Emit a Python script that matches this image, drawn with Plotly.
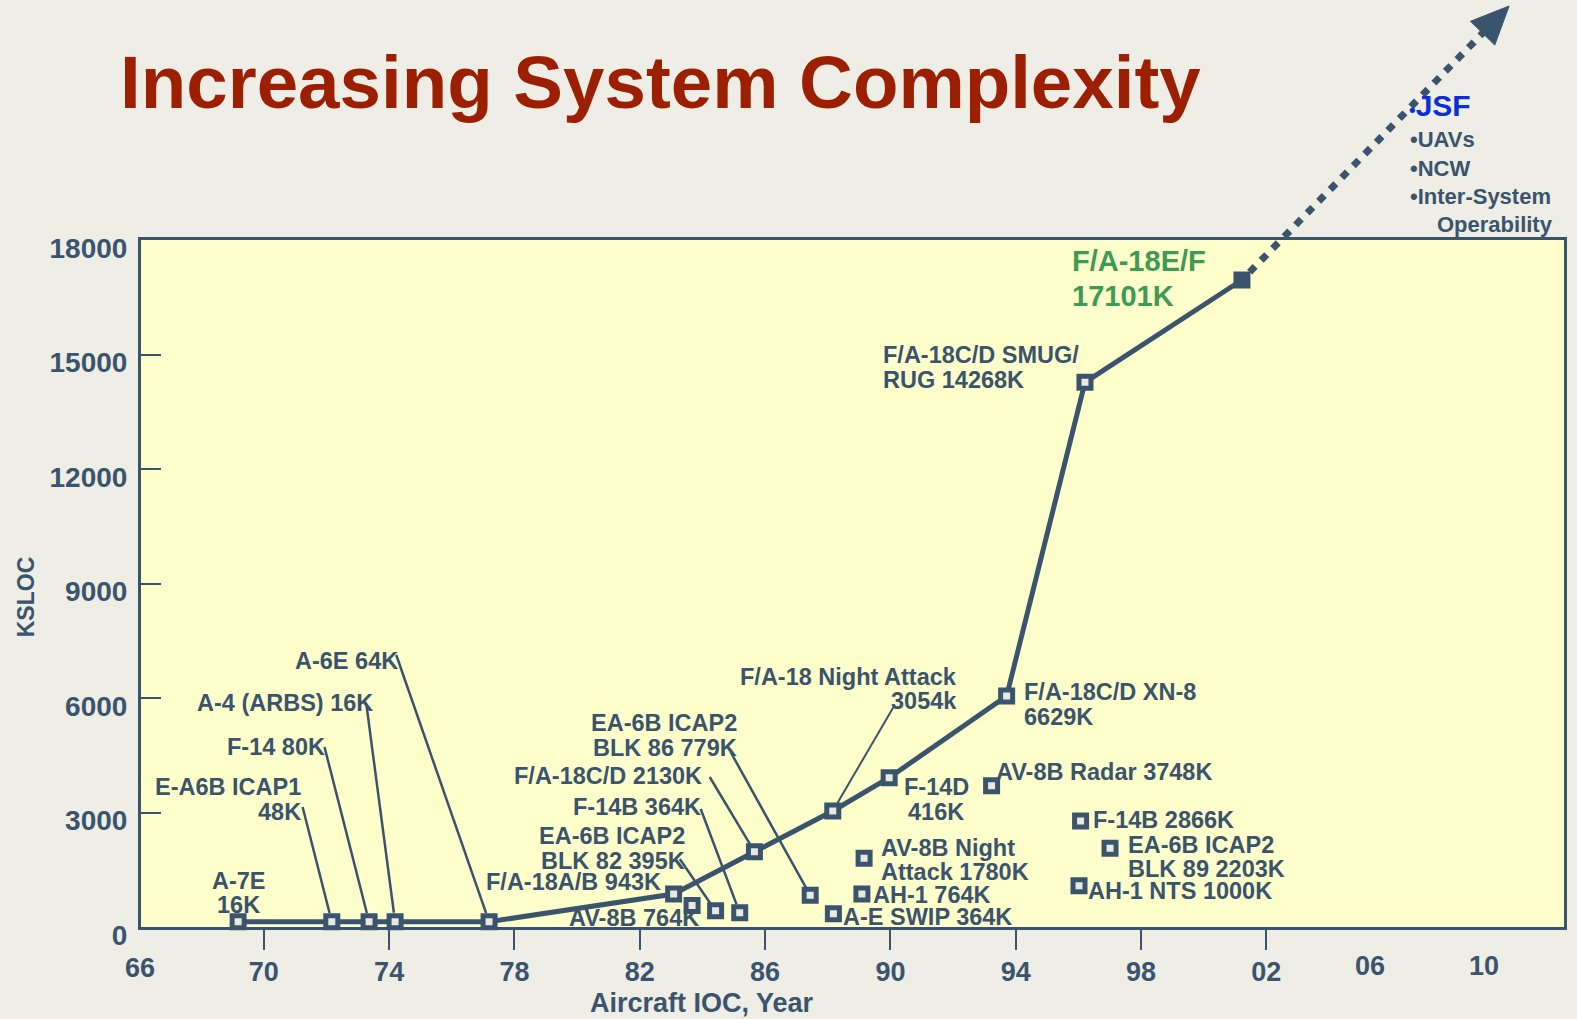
import math
import plotly.graph_objects as go

# ---------------- data ----------------
line_names = ["A-7E", "E-A6B ICAP1", "F-14", "A-4 (ARBS)", "A-6E", "F/A-18A/B",
              "F/A-18C/D", "F/A-18 Night Attack", "F-14D", "F/A-18C/D XN-8",
              "F/A-18C/D SMUG/RUG", "F/A-18E/F"]
line_years = [1969.18, 1972.17, 1973.36, 1974.19, 1977.19, 1983.08,
              1985.66, 1988.16, 1989.96, 1993.71, 1996.21, 2001.22]
line_ksloc = [139, 139, 139, 139, 139, 865, 1973, 3039, 3912, 6052, 14272, 16952]

other_names = ["AV-8B", "EA-6B BLK 82", "F-14B", "EA-6B BLK 86", "A-E SWIP",
               "AH-1", "AV-8B Night Attack", "AV-8B Radar", "AH-1 NTS",
               "F-14B 2866K", "EA-6B BLK 89"]
other_years = [1983.67, 1984.42, 1985.19, 1987.44, 1988.18, 1989.09, 1989.16,
               1993.23, 1996.02, 1996.07, 1997.01]
other_ksloc = [563, 424, 372, 830, 348, 865, 1800, 3702, 1082, 2777, 2062]

x_tickvals = [1970, 1974, 1978, 1982, 1986, 1990, 1994, 1998, 2002]
x_ticktext = ["70", "74", "78", "82", "86", "90", "94", "98", "02"]
y_tickvals = [0, 3000, 6000, 9000, 12000, 15000, 18000]
y_ticktext = ["0", "3000", "6000", "9000", "12000", "15000", "18000"]
extra_x_labels = ["66", "06", "10"]
future_items = ["JSF", "UAVs", "NCW", "Inter-System", "Operability"]

# ---------------- styles / layout geometry ----------------
W, H = 1577, 1019
L, R, T, B = 141, 1567, 240, 927
X0, X1 = 1966.08, 2011.5
Y0, Y1 = 0, 18000
DARK = "#3a546e"
PAPER_BG = "#eeede6"
PLOT_BG = "#ffffcc"
RED = "#9c1f02"
GREEN = "#3f9a56"
BLUE = "#0a2fd6"
FONT = "Liberation Sans"
LBL = 23.5


def pxp(x):
    return (x - L) / (R - L)


def pyp(y):
    return (B - y) / (B - T)


def px_of(yr):
    return L + (yr - X0) / (X1 - X0) * (R - L)


def py_of(v):
    return B - (v - Y0) / (Y1 - Y0) * (B - T)


pts = dict(zip(line_names, zip(line_years, line_ksloc)))
pts.update(dict(zip(other_names, zip(other_years, other_ksloc))))

fig = go.Figure()

fig.add_trace(go.Scatter(
    x=line_years, y=line_ksloc, mode="lines+markers",
    line=dict(color=DARK, width=5),
    marker=dict(symbol="square", size=12,
                color=["#e9e9e2"] * (len(line_years) - 1) + [DARK],
                line=dict(color=DARK, width=5)),
    hoverinfo="skip", showlegend=False, cliponaxis=False))

fig.add_trace(go.Scatter(
    x=other_years, y=other_ksloc, mode="markers",
    marker=dict(symbol="square", size=12, color="#e9e9e2",
                line=dict(color=DARK, width=5)),
    hoverinfo="skip", showlegend=False, cliponaxis=False))

annotations = []
shapes = []


def label(lines, x, ys, anchor="left", size=LBL, color=DARK):
    for txt, y in zip(lines, ys):
        annotations.append(dict(
            text=txt, x=pxp(x), y=pyp(y), xref="paper", yref="paper",
            xanchor=anchor, yanchor="middle", showarrow=False,
            borderpad=0, borderwidth=0,
            font=dict(family=FONT, size=size, color=color, weight="bold")))


def leader(name, tx, ty, width=2.5):
    yr, v = pts[name]
    annotations.append(dict(
        text="", x=yr, y=v, xref="x", yref="y",
        ax=tx - px_of(yr), ay=ty - py_of(v),
        showarrow=True, arrowhead=0, arrowwidth=width, arrowcolor=DARK,
        standoff=9, borderpad=0, borderwidth=0))


# title
label(["Increasing System Complexity"], 120, [82], size=74.5, color=RED)

# data labels
label(["A-7E", "16K"], 239, [880.5, 904.7], anchor="center")
label(["E-A6B ICAP1", "48K"], 301, [787, 812], anchor="right")
leader("E-A6B ICAP1", 303, 807)
label(["F-14 80K"], 325, [747], anchor="right")
leader("F-14", 325, 747)
label(["A-4 (ARBS) 16K"], 373, [703], anchor="right")
leader("A-4 (ARBS)", 367, 705)
label(["A-6E 64K"], 399, [660.5], anchor="right")
leader("A-6E", 397, 655)
label(["F/A-18A/B 943K"], 662, [882], anchor="right")
label(["AV-8B 764K"], 570, [918])
label(["EA-6B ICAP2", "BLK 82 395K"], 686, [836.3, 861.3], anchor="right")
leader("EA-6B BLK 82", 681, 859)
label(["F-14B 364K"], 702, [806.7], anchor="right")
leader("F-14B", 702, 809)
label(["F/A-18C/D 2130K"], 703, [776], anchor="right")
leader("F/A-18C/D", 711, 777)
label(["EA-6B ICAP2", "BLK 86 779K"], 738, [723, 748], anchor="right")
leader("EA-6B BLK 86", 732, 752)
label(["F/A-18 Night Attack", "3054k"], 959, [676.7, 701.3], anchor="right")
leader("F/A-18 Night Attack", 895, 707, width=2)
label(["F-14D", "416K"], 938, [787, 812], anchor="center")
label(["AV-8B Night", "Attack 1780K"], 883, [848, 872])
label(["AH-1 764K"], 875, [894.7])
label(["A-E SWIP 364K"], 844, [917])
label(["F/A-18C/D XN-8", "6629K"], 1026, [692, 717])
label(["AV-8B Radar 3748K"], 998, [772])
label(["F-14B 2866K"], 1095, [820])
label(["EA-6B ICAP2", "BLK 89 2203K"], 1130, [844.5, 868.5])
label(["AH-1 NTS 1000K"], 1090, [890.5])
label(["F/A-18C/D SMUG/", "RUG 14268K"], 885, [355, 380])
label(["F/A-18E/F", "17101K"], 1074, [260.5, 296], size=29, color=GREEN)

# extra x labels (drawn as text)
label([extra_x_labels[0]], 140, [968], anchor="center", size=27)
label([extra_x_labels[1]], 1372.5, [966], anchor="center", size=27)
label([extra_x_labels[2]], 1486.5, [966], anchor="center", size=27)

# axis titles
label(["Aircraft IOC, Year"], 703, [1003], anchor="center", size=27)
annotations.append(dict(
    text="KSLOC", x=pxp(26), y=pyp(597), xref="paper", yref="paper",
    xanchor="center", yanchor="middle", showarrow=False, textangle=-90,
    font=dict(family=FONT, size=23, color=DARK, weight="bold")))

# future list
annotations.append(dict(
    text="<span style='font-size:19px'>•</span>" + future_items[0],
    x=pxp(1412), y=pyp(105), xref="paper", yref="paper",
    xanchor="left", yanchor="middle", showarrow=False, borderpad=0, borderwidth=0,
    font=dict(family=FONT, size=30, color=BLUE, weight="bold")))
label(["•" + future_items[1], "•" + future_items[2], "•" + future_items[3]],
      1413, [140, 168, 196], size=22)
label([future_items[4]], 1440, [224.5], size=22)

# dotted trend arrow
sx, sy = px_of(line_years[-1]), py_of(line_ksloc[-1])
tipx, tipy = 1512, 6
dx, dy = tipx - sx, tipy - sy
dl = math.hypot(dx, dy)
ux, uy = dx / dl, dy / dl
head_len, head_half = 38, 17
bx, by = tipx - head_len * ux, tipy - head_len * uy
shapes.append(dict(
    type="line", xref="paper", yref="paper",
    x0=pxp(sx + 11 * ux), y0=pyp(sy + 11 * uy),
    x1=pxp(bx + 2 * ux), y1=pyp(by + 2 * uy),
    line=dict(color=DARK, width=7, dash="8px,8.5px"), layer="above"))
c1 = (bx - head_half * uy, by + head_half * ux)
c2 = (bx + head_half * uy, by - head_half * ux)
path = "M {:.5f},{:.5f} L {:.5f},{:.5f} L {:.5f},{:.5f} Z".format(
    pxp(tipx), pyp(tipy), pxp(c1[0]), pyp(c1[1]), pxp(c2[0]), pyp(c2[1]))
shapes.append(dict(type="path", xref="paper", yref="paper", path=path,
                   fillcolor=DARK, line=dict(color=DARK, width=1), layer="above"))

fig.update_layout(
    width=W, height=H, autosize=False,
    margin=dict(l=L, r=W - R, t=T, b=H - B, pad=0),
    paper_bgcolor=PAPER_BG, plot_bgcolor=PLOT_BG,
    showlegend=False,
    annotations=annotations, shapes=shapes,
    xaxis=dict(range=[X0, X1], tickvals=x_tickvals, ticktext=x_ticktext,
               ticks="outside", ticklen=20, tickwidth=2, tickcolor=DARK,
               showline=True, linecolor=DARK, linewidth=3, mirror=True,
               showgrid=False, zeroline=False, ticklabelstandoff=-1,
               tickfont=dict(family=FONT, size=27, color=DARK, weight="bold")),
    yaxis=dict(range=[Y0, Y1], tickvals=y_tickvals, ticktext=y_ticktext,
               ticks="inside", ticklen=20, tickwidth=2, tickcolor=DARK,
               showline=True, linecolor=DARK, linewidth=3, mirror=True,
               showgrid=False, zeroline=False, ticklabelstandoff=5,
               ticklabelshift=8,
               tickfont=dict(family=FONT, size=28, color=DARK, weight="bold")),
)

fig.write_html("out.html",
               config={"displayModeBar": False},
               post_script="document.body.style.margin='0';document.body.style.overflow='hidden';")
